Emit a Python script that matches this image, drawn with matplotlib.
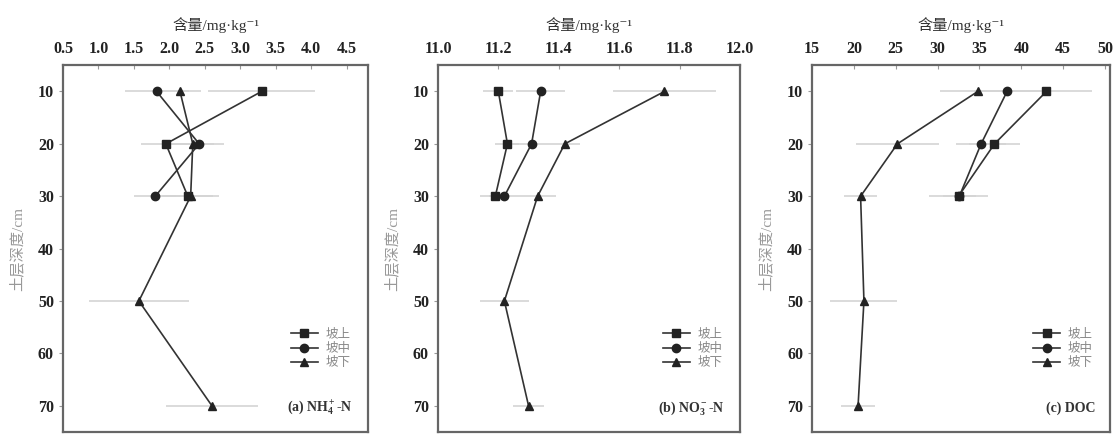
import matplotlib
matplotlib.use('Agg')
import matplotlib.pyplot as plt

plt.rcParams['font.family'] = ['Liberation Serif', 'Noto Sans CJK SC', 'DejaVu Serif']
plt.rcParams['mathtext.fontset'] = 'stix'
plt.rcParams['mathtext.default'] = 'regular'

series_names = ["坡上", "坡中", "坡下"]
markers = ["s", "o", "^"]

# depths (cm); top and mid slope only sampled to 30 cm
depth_short = [10, 20, 30]
depth_long = [10, 20, 30, 50, 70]

# (a) NH4+-N
nh4_top = [3.30, 1.95, 2.26]
nh4_top_err = [0.75, 0.35, 0.35]
nh4_mid = [1.82, 2.42, 1.80]
nh4_mid_err = [0.45, 0.35, 0.30]
nh4_low = [2.15, 2.33, 2.30, 1.57, 2.60]
nh4_low_err = [0.30, 0.30, 0.40, 0.70, 0.65]

# (b) NO3--N
no3_top = [11.20, 11.23, 11.19]
no3_top_err = [0.05, 0.04, 0.05]
no3_mid = [11.34, 11.31, 11.22]
no3_mid_err = [0.08, 0.06, 0.05]
no3_low = [11.75, 11.42, 11.33, 11.22, 11.30]
no3_low_err = [0.17, 0.05, 0.06, 0.08, 0.05]

# (c) DOC
doc_top = [43.0, 36.8, 32.5]
doc_top_err = [5.5, 3.0, 3.5]
doc_mid = [38.3, 35.2, 32.6]
doc_mid_err = [4.0, 3.0, 2.0]
doc_low = [34.8, 25.2, 20.8, 21.2, 20.5]
doc_low_err = [4.5, 5.0, 2.0, 4.0, 2.0]

panels = [
    dict(data=[(nh4_top, nh4_top_err), (nh4_mid, nh4_mid_err), (nh4_low, nh4_low_err)],
         xlim=(0.5, 4.8), xticks=[0.5, 1.0, 1.5, 2.0, 2.5, 3.0, 3.5, 4.0, 4.5],
         fmt="{:.1f}", label=r"(a) NH$_4^+$-N", pos=[0.0566, 0.0046, 0.274, 0.845]),
    dict(data=[(no3_top, no3_top_err), (no3_mid, no3_mid_err), (no3_low, no3_low_err)],
         xlim=(11.0, 12.0), xticks=[11.0, 11.2, 11.4, 11.6, 11.8, 12.0],
         fmt="{:.1f}", label=r"(b) NO$_3^-$-N", pos=[0.3935, 0.0046, 0.2713, 0.845]),
    dict(data=[(doc_top, doc_top_err), (doc_mid, doc_mid_err), (doc_low, doc_low_err)],
         xlim=(15, 50.6), xticks=[15, 20, 25, 30, 35, 40, 45, 50],
         fmt="{:.0f}", label="(c) DOC", pos=[0.7296, 0.0046, 0.2677, 0.845]),
]

fig = plt.figure(figsize=(11.13, 4.34), dpi=100)

for p in panels:
    ax = fig.add_axes(p['pos'])
    for i, (vals, errs) in enumerate(p['data']):
        depths = depth_long if len(vals) == 5 else depth_short
        ax.errorbar(vals, depths, xerr=errs, fmt='none', ecolor='#d4d4d4',
                    elinewidth=1.2, capsize=0, zorder=1)
        ax.plot(vals, depths, color='#333333', lw=1.2, marker=markers[i],
                ms=6, mfc='#222222', mec='#222222', label=series_names[i], zorder=3)
    ax.set_xlim(*p['xlim'])
    ax.set_ylim(75, 5)
    ax.set_yticks([10, 20, 30, 40, 50, 60, 70])
    ax.set_xticks(p['xticks'])
    ax.set_xticklabels([p['fmt'].format(t) for t in p['xticks']])
    ax.xaxis.tick_top()
    ax.xaxis.set_label_position('top')
    ax.tick_params(axis='x', direction='in', length=3, width=0.8, colors='#999999',
                   labelcolor='#222222', labelsize=11.5, pad=6)
    ax.tick_params(axis='y', direction='out', length=3, width=0.8, colors='#999999',
                   labelcolor='#222222', labelsize=11.5)
    for lab in ax.get_xticklabels() + ax.get_yticklabels():
        lab.set_fontweight('bold')
    for s in ax.spines.values():
        s.set_color('#666666')
        s.set_linewidth(1.6)
    ax.set_xlabel("含量/mg·kg⁻¹", fontsize=11, labelpad=8, color='#333333')
    ax.set_ylabel("土层深度/cm", fontsize=11, color='#999999', labelpad=10)
    leg = ax.legend(loc='lower right', bbox_to_anchor=(0.98, 0.14), frameon=False,
                    fontsize=9, handlelength=2.2, labelspacing=0.2, handletextpad=0.6)
    for t in leg.get_texts():
        t.set_color('#888888')
    ax.text(0.95, 0.065, p['label'], transform=ax.transAxes, ha='right', va='center',
            fontsize=10, fontweight='bold', color='#333333')

fig.savefig('out.png', dpi=100)
